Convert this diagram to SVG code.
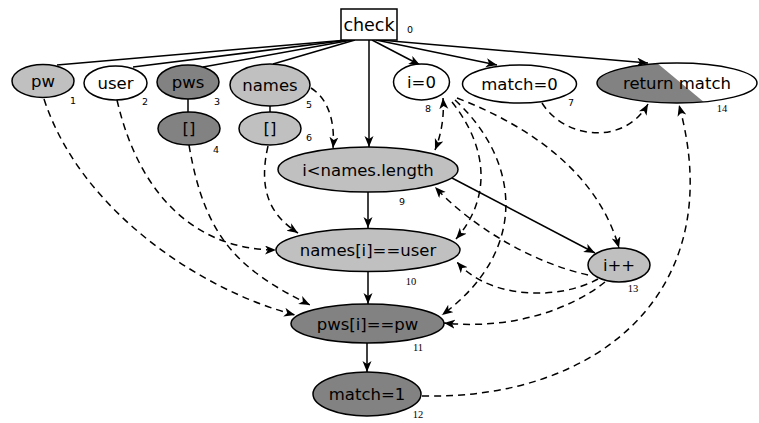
<svg xmlns="http://www.w3.org/2000/svg" width="759" height="423" viewBox="0 0 759 423">
<style>
.node{stroke:#000;stroke-width:1.5}
.lt{fill:#c0c0c0}
.dk{fill:#828282}
.wh{fill:#fff}
.lbl{font-family:"DejaVu Sans",sans-serif;font-size:16.5px;fill:#000;text-anchor:middle}
.num{font-family:"DejaVu Sans",sans-serif;font-size:9.5px;fill:#000;text-anchor:middle}
.nums{font-family:"Liberation Serif",serif;font-size:10.5px;fill:#000;text-anchor:middle}
.solid{fill:none;stroke:#000;stroke-width:1.5}
.dash{fill:none;stroke:#000;stroke-width:1.5;stroke-dasharray:7 5}
</style>
<defs>
<marker id="ah" markerUnits="userSpaceOnUse" markerWidth="12" markerHeight="10" refX="11" refY="4.5" orient="auto-start-reverse">
<path d="M0,0 L11,4.5 L0,9 L3,4.5 z" fill="#000"/>
</marker>
<clipPath id="retclip"><ellipse cx="677" cy="83" rx="80" ry="20"/></clipPath>
</defs>
<rect width="759" height="423" fill="#fff"/>
<g id="connectors">
<path class="solid" d="M347 40 L57 65"/>
<path class="solid" d="M349 40 L133 67"/>
<path class="solid" d="M352 40 L203 67"/>
<path class="solid" d="M355 40 L273 64"/>
<path class="solid" d="M372 40 L420 65" marker-end="url(#ah)"/>
<path class="solid" d="M376 40 L497 65" marker-end="url(#ah)"/>
<path class="solid" d="M380 40 L648 63" marker-end="url(#ah)"/>
<path class="solid" d="M369 40 L369 147" marker-end="url(#ah)"/>
<path class="solid" d="M188 99 L188 112"/>
<path class="solid" d="M270 106 L270 112"/>
<path class="solid" d="M368 192 L368 228" marker-end="url(#ah)"/>
<path class="solid" d="M368 272 L368 304" marker-end="url(#ah)"/>
<path class="solid" d="M367 343 L367 372" marker-end="url(#ah)"/>
<path class="solid" d="M452 178 L595 253" marker-end="url(#ah)"/>
<path class="dash" d="M44 99 C80 210 200 290 295 315" marker-end="url(#ah)"/>
<path class="dash" d="M117 100 C140 200 200 250 276 250" marker-end="url(#ah)"/>
<path class="dash" d="M189 145 C205 240 240 270 310 305" marker-end="url(#ah)"/>
<path class="dash" d="M268 146 C258 190 270 215 298 233" marker-end="url(#ah)"/>
<path class="dash" d="M311 88 C330 100 335 125 333 148" marker-end="url(#ah)"/>
<path class="dash" d="M542 103 C565 140 625 145 648 104" marker-end="url(#ah)"/>
<path class="dash" d="M422 396 C600 400 730 290 679 105" marker-end="url(#ah)"/>
<path class="dash" d="M443 98 Q445 125 435 150" marker-start="url(#ah)" marker-end="url(#ah)"/>
<path class="dash" d="M452 102 C490 150 490 200 456 239" marker-end="url(#ah)"/>
<path class="dash" d="M455 100 C520 160 530 250 442 315" marker-end="url(#ah)"/>
<path class="dash" d="M457 98 C540 130 600 180 619 248" marker-end="url(#ah)"/>
<path class="dash" d="M588 275 C530 262 470 225 435 187" marker-end="url(#ah)"/>
<path class="dash" d="M598 279 C560 300 490 300 457 262" marker-end="url(#ah)"/>
<path class="dash" d="M605 282 C570 310 510 330 444 323" marker-end="url(#ah)"/>
</g>
<g id="n0"><rect class="node wh" x="341" y="9" width="56" height="31"/><text class="lbl" x="369" y="31" style="font-size:17.5px">check</text><text class="num" x="410" y="33">0</text></g>
<g id="n1"><ellipse class="node lt" cx="43" cy="81" rx="31" ry="16.5"/><text class="lbl" x="43" y="87">pw</text><text class="num" x="73" y="104">1</text></g>
<g id="n2"><ellipse class="node wh" cx="115.5" cy="83" rx="31.5" ry="17"/><text class="lbl" x="115.5" y="89">user</text><text class="num" x="145" y="105">2</text></g>
<g id="n3"><ellipse class="node dk" cx="188" cy="82" rx="31" ry="17"/><text class="lbl" x="188" y="88">pws</text><text class="num" x="217" y="105">3</text></g>
<g id="n4"><ellipse class="node dk" cx="189" cy="128.5" rx="31" ry="16.5"/><text class="lbl" x="189" y="134">[]</text><text class="num" x="216" y="153">4</text></g>
<g id="n5"><ellipse class="node lt" cx="270" cy="85" rx="40" ry="21"/><text class="lbl" x="270" y="91">names</text><text class="num" x="309" y="108">5</text></g>
<g id="n6"><ellipse class="node lt" cx="270" cy="128.5" rx="31" ry="16.5"/><text class="lbl" x="270" y="134">[]</text><text class="num" x="309" y="141">6</text></g>
<g id="n8"><ellipse class="node wh" cx="421.5" cy="82" rx="28" ry="18"/><text class="lbl" x="421.5" y="88">i=0</text><text class="num" x="428" y="112">8</text></g>
<g id="n7"><ellipse class="node wh" cx="519.5" cy="84" rx="57" ry="19"/><text class="lbl" x="519.5" y="90">match=0</text><text class="num" x="571" y="106">7</text></g>
<g id="n14"><ellipse cx="677" cy="83" rx="80" ry="20" fill="#fff"/><polygon class="dk" points="590,55 647.4,55 715.8,112 590,112" clip-path="url(#retclip)"/><ellipse cx="677" cy="83" rx="80" ry="20" fill="none" stroke="#000" stroke-width="1.5"/><text class="lbl" x="677" y="89">return match</text><text class="nums" x="722" y="112">14</text></g>
<g id="n9"><ellipse class="node lt" cx="368" cy="169.5" rx="90" ry="22.5"/><text class="lbl" x="368" y="176">i&lt;names.length</text><text class="num" x="402" y="205">9</text></g>
<g id="n10"><ellipse class="node lt" cx="368" cy="250" rx="92" ry="21.5"/><text class="lbl" x="368" y="256">names[i]==user</text><text class="nums" x="411" y="285">10</text></g>
<g id="n13"><ellipse class="node lt" cx="619" cy="265" rx="31" ry="17"/><text class="lbl" x="619" y="271">i++</text><text class="nums" x="633" y="292">13</text></g>
<g id="n11"><ellipse class="node dk" cx="367.5" cy="323.5" rx="76.5" ry="19.5"/><text class="lbl" x="367.5" y="329.5">pws[i]==pw</text><text class="nums" x="418" y="351">11</text></g>
<g id="n12"><ellipse class="node dk" cx="367" cy="394" rx="54" ry="22"/><text class="lbl" x="367" y="400">match=1</text><text class="nums" x="418" y="418">12</text></g>
</svg>
